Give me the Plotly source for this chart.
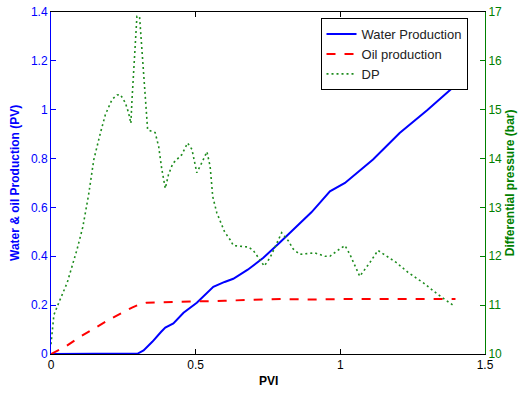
import plotly.graph_objects as go

# Water production (PV)
water_x = [0, 0.1, 0.2, 0.29, 0.30, 0.32, 0.35, 0.38, 0.395, 0.423, 0.458, 0.504, 0.561, 0.60, 0.63, 0.68,
           0.734, 0.79, 0.849, 0.90, 0.929, 0.964, 1.016, 1.113, 1.205, 1.30, 1.398]
water_y = [0, 0, 0, 0, 0.002, 0.015, 0.05, 0.09, 0.108, 0.125, 0.169, 0.21, 0.275, 0.295, 0.308, 0.345,
           0.394, 0.455, 0.523, 0.58, 0.619, 0.666, 0.70, 0.796, 0.905, 0.998, 1.10]

# Oil production (PV)
oil_x = [0, 0.05, 0.1, 0.2, 0.28, 0.31, 0.33, 0.4, 0.5, 0.6, 0.7, 0.8, 0.9, 1.0, 1.2, 1.398]
oil_y = [0, 0.03, 0.07, 0.14, 0.19, 0.205, 0.21, 0.212, 0.213, 0.218, 0.222, 0.225, 0.223, 0.225, 0.225, 0.225]

# Differential pressure (bar)
dp_x = [0, 0.01, 0.027, 0.056, 0.09, 0.11, 0.13, 0.148, 0.171, 0.188, 0.211, 0.228, 0.24, 0.257, 0.268,
        0.276, 0.28, 0.286, 0.297, 0.306, 0.314, 0.322, 0.329, 0.334, 0.36, 0.372, 0.383, 0.395, 0.406,
        0.421, 0.452, 0.472, 0.487, 0.504, 0.521, 0.539, 0.55, 0.559, 0.573, 0.60, 0.619, 0.63, 0.682,
        0.699, 0.717, 0.737, 0.757, 0.774, 0.797, 0.82, 0.837, 0.86, 0.912, 0.947, 0.964, 0.998, 1.016,
        1.033, 1.05, 1.067, 1.102, 1.13, 1.148, 1.194, 1.234, 1.286, 1.337, 1.372, 1.389]
dp_y = [10.2, 10.8, 11.05, 11.46, 12.14, 12.6, 13.26, 13.98, 14.53, 14.9, 15.21, 15.3, 15.31, 15.14, 14.94,
        14.72, 15.21, 15.89, 16.91, 16.91, 16.23, 15.55, 14.8, 14.59, 14.53, 14.25, 13.78, 13.39, 13.67,
        13.9, 14.08, 14.32, 14.19, 13.71, 13.91, 14.14, 13.84, 13.22, 12.89, 12.5, 12.34, 12.22, 12.19,
        12.12, 11.97, 11.8, 11.97, 12.19, 12.48, 12.32, 12.15, 12.04, 12.07, 12.0, 12.0, 12.15, 12.22,
        12.04, 11.8, 11.59, 11.87, 12.12, 12.05, 11.87, 11.67, 11.46, 11.22, 11.08, 11.0]

x_ticks = [0, 0.5, 1, 1.5]
x_tick_labels = ["0", "0.5", "1", "1.5"]
y_ticks = [0, 0.2, 0.4, 0.6, 0.8, 1, 1.2, 1.4]
y_tick_labels = ["0", "0.2", "0.4", "0.6", "0.8", "1", "1.2", "1.4"]
y2_ticks = [10, 11, 12, 13, 14, 15, 16, 17]

FONT = "Liberation Sans, Arial, sans-serif"

fig = go.Figure()
fig.add_trace(go.Scatter(x=water_x, y=water_y, mode="lines", name="Water Production",
                         line=dict(color="#0000FF", width=2)))
fig.add_trace(go.Scatter(x=oil_x, y=oil_y, mode="lines", name="Oil production",
                         line=dict(color="#FF0000", width=2, dash="dash")))
fig.add_trace(go.Scatter(x=dp_x, y=dp_y, mode="lines", name="DP", yaxis="y2",
                         line=dict(color="#1E8C1E", width=1.6, dash="2px,3px")))

fig.update_layout(
    width=519, height=394,
    margin=dict(l=51, r=34, t=12, b=40),
    paper_bgcolor="white", plot_bgcolor="white",
    font=dict(family=FONT, size=12, color="black"),
    showlegend=True,
    legend=dict(x=0.621, y=0.982, xanchor="left", yanchor="top",
                bgcolor="white", bordercolor="black", borderwidth=1,
                font=dict(family=FONT, size=13, color="#222222"),
                tracegroupgap=0),
    xaxis=dict(range=[0, 1.5], tickvals=x_ticks, ticktext=x_tick_labels, automargin=False,
               showgrid=False, zeroline=False, showline=True, linecolor="black", linewidth=1,
               mirror="ticks", ticks="inside", ticklen=5, tickcolor="black",
               tickfont=dict(color="black", size=12)),
    yaxis=dict(range=[0, 1.4], tickvals=y_ticks, ticktext=y_tick_labels, automargin=False,
               showgrid=False, zeroline=False, showline=True, linecolor="#0000FF", linewidth=1,
               ticks="inside", ticklen=5, tickcolor="#0000FF",
               tickfont=dict(color="#0000FF", size=12)),
    yaxis2=dict(range=[10, 17], tickvals=y2_ticks, overlaying="y", side="right", automargin=False,
                showgrid=False, zeroline=False, showline=True, linecolor="#008000", linewidth=1,
                ticks="inside", ticklen=5, tickcolor="#008000",
                tickfont=dict(color="#008000", size=12)),
    annotations=[
        dict(text="<b>PVI</b>", xref="paper", yref="paper", x=0.5, y=-0.078,
             xanchor="center", yanchor="middle", showarrow=False,
             font=dict(size=12, color="black")),
        dict(text="<b>Water &amp; oil Production (PV)</b>", xref="paper", yref="paper",
             x=-0.083, y=0.5, xanchor="center", yanchor="middle", textangle=-90,
             showarrow=False, font=dict(size=12, color="#0000FF")),
        dict(text="<b>Differential pressure (bar)</b>", xref="paper", yref="paper",
             x=1.058, y=0.5, xanchor="center", yanchor="middle", textangle=-90,
             showarrow=False, font=dict(size=12, color="#008000")),
    ],
)

fig.write_html("out.html", config={"displayModeBar": False},
               post_script="document.body.style.margin='0';document.body.style.overflow='hidden';")
